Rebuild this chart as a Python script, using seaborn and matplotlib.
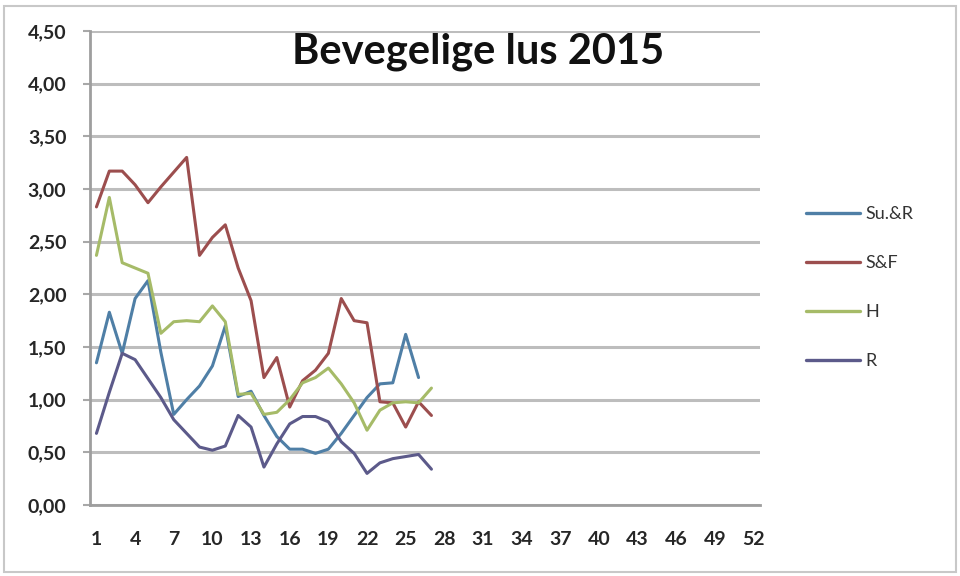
import numpy as np
import pandas as pd
import matplotlib
matplotlib.use("Agg")
import matplotlib.pyplot as plt
import seaborn as sns
from matplotlib.ticker import FixedLocator, FuncFormatter
from matplotlib.patches import Rectangle

# ---- data ----
series_names = ["Su.&R", "S&F", "H", "R"]
su_r = [1.35, 1.83, 1.44, 1.96, 2.13, 1.45, 0.86, 1.00, 1.13, 1.32, 1.70, 1.03, 1.08, 0.85,
        0.65, 0.53, 0.53, 0.49, 0.53, 0.68, 0.85, 1.02, 1.15, 1.16, 1.62, 1.21]
s_f = [2.83, 3.17, 3.17, 3.04, 2.87, 3.02, 3.16, 3.30, 2.37, 2.54, 2.66, 2.25, 1.94, 1.21,
       1.40, 0.93, 1.18, 1.28, 1.44, 1.96, 1.75, 1.73, 0.98, 0.97, 0.74, 0.98, 0.85]
h = [2.37, 2.92, 2.30, 2.25, 2.20, 1.63, 1.74, 1.75, 1.74, 1.89, 1.74, 1.05, 1.06, 0.86,
     0.88, 1.00, 1.16, 1.21, 1.30, 1.15, 0.97, 0.71, 0.90, 0.97, 0.98, 0.97, 1.11]
r = [0.68, 1.07, 1.44, 1.38, 1.20, 1.02, 0.81, 0.68, 0.55, 0.52, 0.56, 0.85, 0.74, 0.36,
     0.58, 0.77, 0.84, 0.84, 0.79, 0.60, 0.49, 0.30, 0.40, 0.44, 0.46, 0.48, 0.34]
x_tick_labels = list(range(1, 53, 3))
y_ticks = [0.0, 0.5, 1.0, 1.5, 2.0, 2.5, 3.0, 3.5, 4.0, 4.5]
title = "Bevegelige lus 2015"
colors = ["#4f7fa6", "#9c4e4e", "#a6bb68", "#5c5a8a"]

rows = []
for name, vals in zip(series_names, [su_r, s_f, h, r]):
    for i, v in enumerate(vals):
        rows.append({"Uke": i + 1, "Verdi": v, "Serie": name})
df = pd.DataFrame(rows)

sns.set_theme(style="white")
plt.rcParams["font.family"] = ["Lato", "DejaVu Sans"]

fig = plt.figure(figsize=(9.6, 5.76), dpi=100)
ax = fig.add_axes([90 / 960, 1 - 505 / 576, (760 - 90) / 960, (505 - 31) / 576])

sns.lineplot(data=df, x="Uke", y="Verdi", hue="Serie", hue_order=series_names,
             palette=colors, linewidth=2.2, ax=ax, legend=True, zorder=3)

ax.set_xlim(0.5, 52.5)
ax.set_ylim(0, 4.5)
ax.set_xlabel("")
ax.set_ylabel("")

ax.set_yticks(y_ticks)
ax.yaxis.set_major_formatter(FuncFormatter(lambda v, p: f"{v:.2f}".replace(".", ",")))
ax.set_xticks(x_tick_labels)
ax.set_xticklabels([str(t) for t in x_tick_labels])
ax.xaxis.set_minor_locator(FixedLocator(np.arange(0.5, 53, 1)))

ax.grid(axis="y", color="#bdbdbd", linewidth=2.2, zorder=0)
ax.set_axisbelow(True)
for s in ["top", "right"]:
    ax.spines[s].set_visible(False)
for s in ["left", "bottom"]:
    ax.spines[s].set_color("#9e9e9e")
    ax.spines[s].set_linewidth(2.0)

ax.tick_params(axis="x", which="major", length=0, pad=19, labelsize=14, labelcolor="#262626")
ax.tick_params(axis="x", which="minor", length=5, width=1.5, color="#a8a8a8", direction="out")
ax.tick_params(axis="y", which="major", length=5, width=1.5, color="#a8a8a8", pad=12,
               labelsize=14, labelcolor="#262626", left=True)
for lab in ax.get_xticklabels() + ax.get_yticklabels():
    lab.set_fontweight("bold")

leg = ax.legend(loc="upper left", bbox_to_anchor=(790 / 960, 1 - 190 / 576),
                bbox_transform=fig.transFigure, frameon=False, fontsize=13,
                handlelength=3.0, labelspacing=1.82, handletextpad=0.25)
for line in leg.get_lines():
    line.set_linewidth(2.4)
for t in leg.get_texts():
    t.set_color("#333333")

fig.text(478 / 960, 1 - 52 / 576, title, ha="center", va="center",
         fontsize=30, fontweight="bold", color="#111111")

fig.patches.append(Rectangle((4 / 960, 4 / 576), 952 / 960, 566 / 576, transform=fig.transFigure,
                             fill=False, edgecolor="#c8c8c8", linewidth=1.5))

fig.savefig("out.png", dpi=100)
